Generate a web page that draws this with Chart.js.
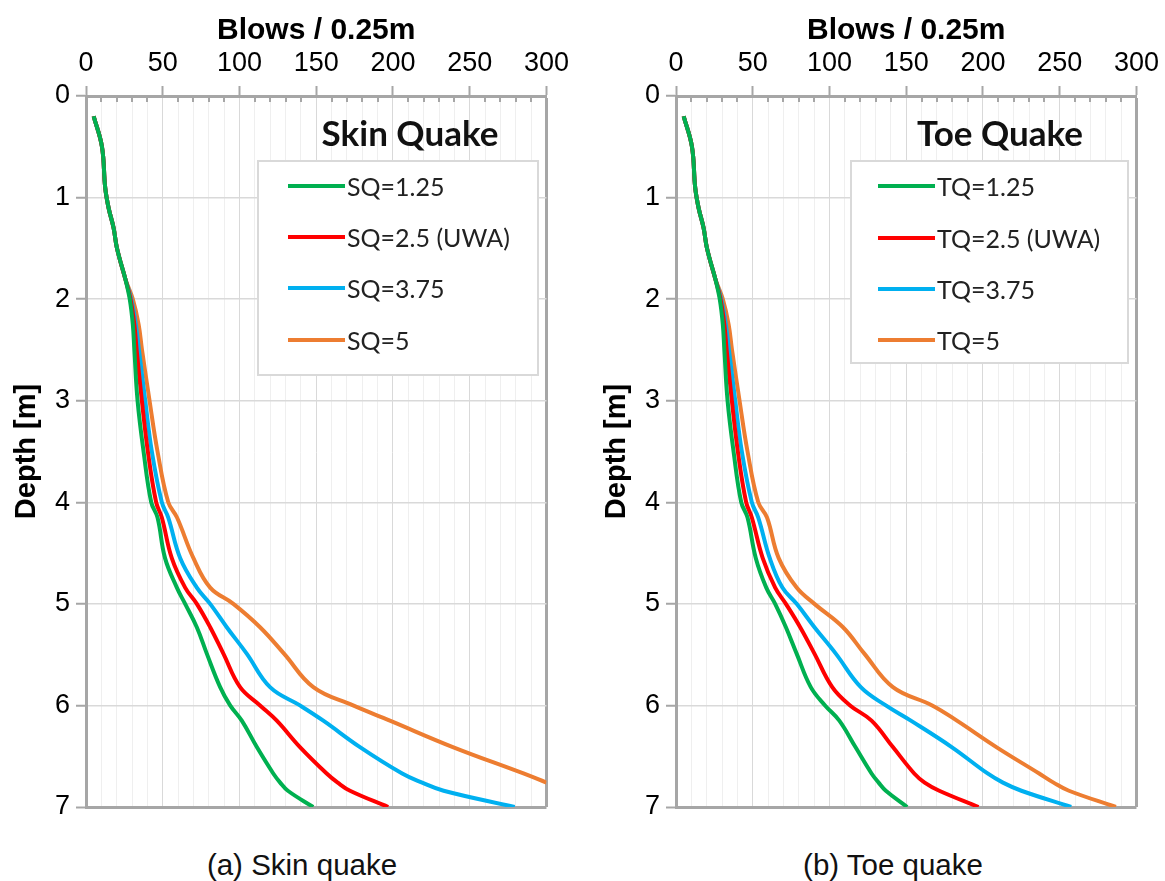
<!DOCTYPE html>
<html>
<head>
<meta charset="utf-8">
<script src="https://cdn.jsdelivr.net/npm/chart.js@4.4.1/dist/chart.umd.min.js"></script>
<style>
  body { margin: 0; background: #fff; width: 1165px; height: 881px; position: relative; overflow: hidden; font-family: 'Liberation Sans', Arial, sans-serif; }
  .panel { position: absolute; top: 0; width: 575px; height: 840px; }
  .panel canvas { position: absolute; left: 0; top: 0; }
  .qtitle { position: absolute; top: 111px; font-family: Lato, sans-serif; font-weight: bold; font-size: 35px; line-height: 42px; color: #111; text-align: center; width: 280px; }
  .legend { position: absolute; top: 160px; border: 2px solid #d9d9d9; background: #fff; box-sizing: border-box; }
  .item { position: absolute; display: flex; align-items: center; height: 30px; font-family: Lato, sans-serif; font-size: 25px; color: #222; white-space: nowrap; }
  .item i { display: inline-block; width: 57px; height: 4px; margin-right: 2px; }
  .caption { position: absolute; top: 847px; font-size: 29.5px; line-height: 36px; color: #111; text-align: center; width: 400px; }
</style>
</head>
<body>
<div class="panel" style="left:0px">
  <canvas id="chart-skin" width="575" height="840"></canvas>
  <div class="qtitle" style="left:270px">Skin Quake</div>
  <div class="legend" id="legend-skin" style="left:257px;width:282px;height:216px"></div>
</div>
<div class="panel" style="left:590px">
  <canvas id="chart-toe" width="575" height="840"></canvas>
  <div class="qtitle" style="left:270px">Toe Quake</div>
  <div class="legend" id="legend-toe" style="left:260px;width:279px;height:204px"></div>
</div>
<div class="caption" style="left:102px">(a) Skin quake</div>
<div class="caption" style="left:693px">(b) Toe quake</div>

<script>
// depth [m] shared by every curve
const depth = [0.2, 0.5, 0.9, 1.1, 1.3, 1.5, 1.8, 2.0, 2.25, 2.5, 3.0, 3.5, 4.0, 4.15, 4.55, 4.84, 5.0, 5.23, 5.49, 5.82, 6.0, 6.15, 6.41, 6.67, 6.76, 6.84, 7.0];

// blows / 0.25m, skin quake panel
const sq125 = [5, 10.4, 12.5, 14.7, 18, 20.2, 25.6, 28.5, 30.5, 31.5, 33.6, 37.5, 42.5, 46.6, 51.5, 59.2, 64.6, 72.2, 78.7, 87.4, 93.9, 101.5, 111.3, 122, 126.5, 131.5, 148];
const sq25  = [5, 10.4, 12.5, 14.7, 18, 20.2, 25.6, 29, 31.5, 33, 36.4, 40.3, 45.7, 49.4, 55.9, 64.6, 72.2, 80.9, 89.5, 100.4, 113.4, 124.3, 139.4, 156.8, 164, 172, 196.9];
const sq375 = [5, 10.4, 12.5, 14.7, 18, 20.2, 25.6, 29.5, 32.5, 34.5, 38.6, 42.9, 49.4, 53.6, 61.4, 72.2, 80.9, 91.7, 104.7, 119.9, 139.4, 154.6, 178.5, 206, 219, 233, 279.3];
const sq5   = [5, 10.4, 12.5, 14.7, 18, 20.2, 25.6, 30.5, 34.3, 36.5, 41.4, 46.6, 53.6, 59.3, 70, 80.9, 96, 113.4, 129, 148.1, 174, 198, 239, 285, 300, null, null];

// blows / 0.25m, toe quake panel
const tq125 = [5, 10.4, 12.5, 14.7, 18, 20.2, 25.6, 28.5, 30.5, 31.5, 33.6, 37.5, 42.5, 46.6, 52, 58.8, 64.6, 71.6, 78.6, 87.8, 97.1, 106.4, 116.9, 127.4, 132, 136.7, 150.6];
const tq25  = [5, 10.4, 12.5, 14.7, 18, 20.2, 25.6, 29, 31.5, 33, 36.4, 40.3, 45.7, 49.4, 56.5, 64.6, 71.6, 80.9, 90.2, 101.8, 113.4, 127.4, 141.3, 155.2, 162, 171.5, 197.1];
const tq375 = [5, 10.4, 12.5, 14.7, 18, 20.2, 25.6, 29.5, 32.5, 34.5, 38.6, 42.9, 49.4, 53.6, 61.1, 69.3, 78.6, 90.2, 104.1, 120.4, 136.7, 153, 179.6, 203, 213, 225, 257.5];
const tq5   = [5, 10.4, 12.5, 14.7, 18, 20.2, 25.6, 30.5, 34.3, 36.5, 41.4, 46.6, 53.6, 59.3, 66.9, 78.6, 90.2, 108.8, 122.7, 141.3, 166.9, 183, 208.7, 236.6, 246, 256, 286.6];

const skinLabels = ['SQ=1.25', 'SQ=2.5 (UWA)', 'SQ=3.75', 'SQ=5'];
const toeLabels = ['TQ=1.25', 'TQ=2.5 (UWA)', 'TQ=3.75', 'TQ=5'];
const colors = ['#00b050', '#ff0000', '#00b0f0', '#ed7d31'];

const xMax = 300;
const yMax = 7;
const axisGray = '#a6a6a6';

Chart.defaults.font.family = "'Liberation Sans', Arial, sans-serif";
Chart.defaults.color = '#000';

// small minor tick marks hanging inside the top axis (Excel style)
const minorTicks = {
  id: 'minorTicks',
  afterDraw(chart) {
    const { ctx, chartArea, scales: { x } } = chart;
    ctx.save();
    ctx.strokeStyle = axisGray;
    ctx.lineWidth = 2;
    x.ticks.forEach(t => {
      if (t.value % 50 === 0) return;
      const px = Math.round(x.getPixelForValue(t.value));
      ctx.beginPath();
      ctx.moveTo(px, chartArea.top);
      ctx.lineTo(px, chartArea.top + 6);
      ctx.stroke();
    });
    ctx.restore();
  },
};

function buildChart(id, series, labels) {
  return new Chart(document.getElementById(id), {
    type: 'scatter',
    data: {
      datasets: series.map((s, i) => ({
        label: labels[i],
        data: depth.map((d, k) => ({ x: s[k], y: d })).filter(p => p.x !== null),
        showLine: true,
        borderColor: colors[i],
        borderWidth: 4,
        pointRadius: 0,
        tension: 0.4,
        fill: false,
      })),
    },
    options: {
      responsive: false,
      animation: false,
      layout: { padding: { left: 0, right: 28, top: 0, bottom: 33 } },
      plugins: { legend: { display: false }, tooltip: { enabled: false } },
      scales: {
        x: {
          type: 'linear', position: 'top', min: 0, max: xMax,
          ticks: { stepSize: 10, autoSkip: false, maxRotation: 0, padding: 6, font: { size: 27 },
            callback: v => (v % 50 === 0 ? v : '') },
          grid: {
            tickLength: 10, tickWidth: 2,
            color: c => c.tick.value === xMax ? axisGray : (c.tick.value % 50 === 0 ? '#d9d9d9' : '#efefef'),
            lineWidth: c => c.tick.value === xMax ? 3 : 1,
            tickColor: c => (c.tick.value % 50 === 0 ? axisGray : 'rgba(0,0,0,0)'),
          },
          border: { color: axisGray, width: 3 },
          title: { display: true, text: 'Blows / 0.25m', font: { size: 30, weight: 'bold' }, padding: { top: 13, bottom: 0 } },
          afterFit: s => { s.height = 96; },
        },
        y: {
          type: 'linear', reverse: true, min: 0, max: yMax,
          ticks: { stepSize: 1, padding: 6, font: { size: 27 } },
          grid: {
            tickLength: 10, tickWidth: 2, tickColor: axisGray,
            color: c => c.tick.value === yMax ? axisGray : '#d9d9d9',
            lineWidth: c => c.tick.value === yMax ? 3 : 1.5,
          },
          border: { color: axisGray, width: 3 },
          title: { display: true, text: 'Depth [m]', font: { size: 29, weight: 'bold' }, padding: { top: 10, bottom: 0 } },
          afterFit: s => { s.width = 86; },
        },
      },
    },
    plugins: [minorTicks],
  });
}

function buildLegend(id, labels, lineLeft, rows) {
  const box = document.getElementById(id);
  box.innerHTML = labels.map((l, i) =>
    `<div class="item" style="left:${lineLeft}px;top:${rows[i] - 15}px"><i style="background:${colors[i]}"></i>${l}</div>`
  ).join('');
}

buildChart('chart-skin', [sq125, sq25, sq375, sq5], skinLabels);
buildChart('chart-toe', [tq125, tq25, tq375, tq5], toeLabels);
buildLegend('legend-skin', skinLabels, 29, [24, 75, 126, 178]);
buildLegend('legend-toe', toeLabels, 26, [24, 76, 127, 178]);
</script>
</body>
</html>
